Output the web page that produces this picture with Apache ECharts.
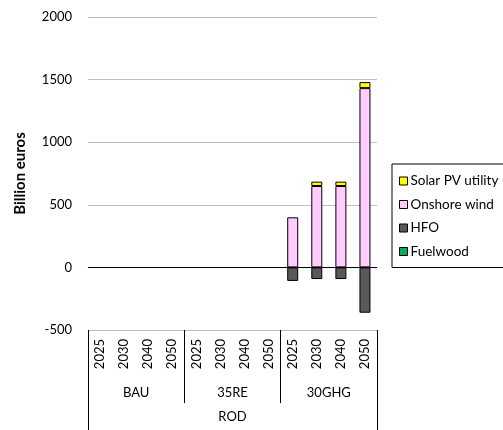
<!DOCTYPE html>
<html>
<head>
<meta charset="utf-8">
<script src="https://cdn.jsdelivr.net/npm/echarts@6/dist/echarts.min.js"></script>
<style>html,body{margin:0;padding:0;background:#fff}#c{width:503px;height:430px}</style>
</head>
<body>
<div id="c"></div>
<script>
var years = ['2025','2030','2040','2050','2025','2030','2040','2050','2025','2030','2040','2050'];
var scenarios = ['BAU','35RE','30GHG'];
var region = ['ROD'];
var solarPV = [null,null,null,null,null,null,null,null,null,35,35,48];
var onshoreWind = [null,null,null,null,null,null,null,null,400,650,650,1432];
var hfo = [null,null,null,null,null,null,null,null,-108,-93,-93,-362];
var fuelwood = [null,null,null,null,null,null,null,null,null,null,null,null];
var yTicks = {min:-500, max:2000, interval:500};

var FONT = 'Lato';
var chart = echarts.init(document.getElementById('c'));
var border = {borderColor:'#000', borderWidth:1};
function ser(name, data, color){
  return {name:name, type:'bar', stack:'s', data:data, barWidth:11,
    itemStyle:Object.assign({color:color}, border)};
}
var series = [
  ser('Onshore wind', onshoreWind, '#FFCCFF'),
  ser('Solar PV utility', solarPV, '#FFFF00'),
  ser('HFO', hfo, '#595959'),
  ser('Fuelwood', fuelwood, '#00B050')
];
series[0].markLine = {silent:true, symbol:'none', label:{show:false},
  lineStyle:{color:'#000', type:'solid', width:1}, data:[{yAxis:0}]};

chart.setOption({
  animation:false,
  textStyle:{fontFamily:FONT},
  grid:{left:88, right:126, top:17, bottom:100},
  legend:{
    orient:'vertical', left:392, top:164, width:110,
    data:['Solar PV utility','Onshore wind','HFO','Fuelwood'],
    borderColor:'#000', borderWidth:1, padding:[10,8,9,7],
    itemWidth:8, itemHeight:8, itemGap:9.5, icon:'rect',
    itemStyle:{borderColor:'#000', borderWidth:1},
    textStyle:{fontFamily:FONT, fontSize:13.5, color:'#000', padding:[0,0,0,-2]}
  },
  xAxis:[
    {type:'category', data:years, position:'bottom',
      axisLine:{show:true, lineStyle:{color:'#bfbfbf'}},
      axisTick:{show:false},
      axisLabel:{rotate:90, fontFamily:FONT, fontSize:13, color:'#000', margin:9, interval:0}},
    {type:'category', data:scenarios, position:'bottom', gridIndex:0,
      axisLine:{show:false},
      axisTick:{show:true, length:73, lineStyle:{color:'#000'}},
      axisLabel:{fontFamily:FONT, fontSize:13, color:'#000', margin:56, interval:0}},
    {type:'category', data:region, position:'bottom', gridIndex:0,
      axisLine:{show:false},
      axisTick:{show:true, length:100, lineStyle:{color:'#000'}},
      axisLabel:{fontFamily:FONT, fontSize:13, color:'#000', margin:80}}
  ],
  yAxis:{type:'value', min:yTicks.min, max:yTicks.max, interval:yTicks.interval,
    name:'Billion euros', nameLocation:'middle', nameGap:60,
    nameTextStyle:{fontFamily:FONT, fontSize:15, fontWeight:'bold', color:'#000'},
    axisLine:{show:false}, axisTick:{show:false},
    axisLabel:{fontFamily:FONT, fontSize:13, color:'#000', margin:16,
      formatter:function(v){return String(v);}},
    splitLine:{lineStyle:{color:'#bfbfbf', width:1}}},
  series:series
});
</script>
</body>
</html>
